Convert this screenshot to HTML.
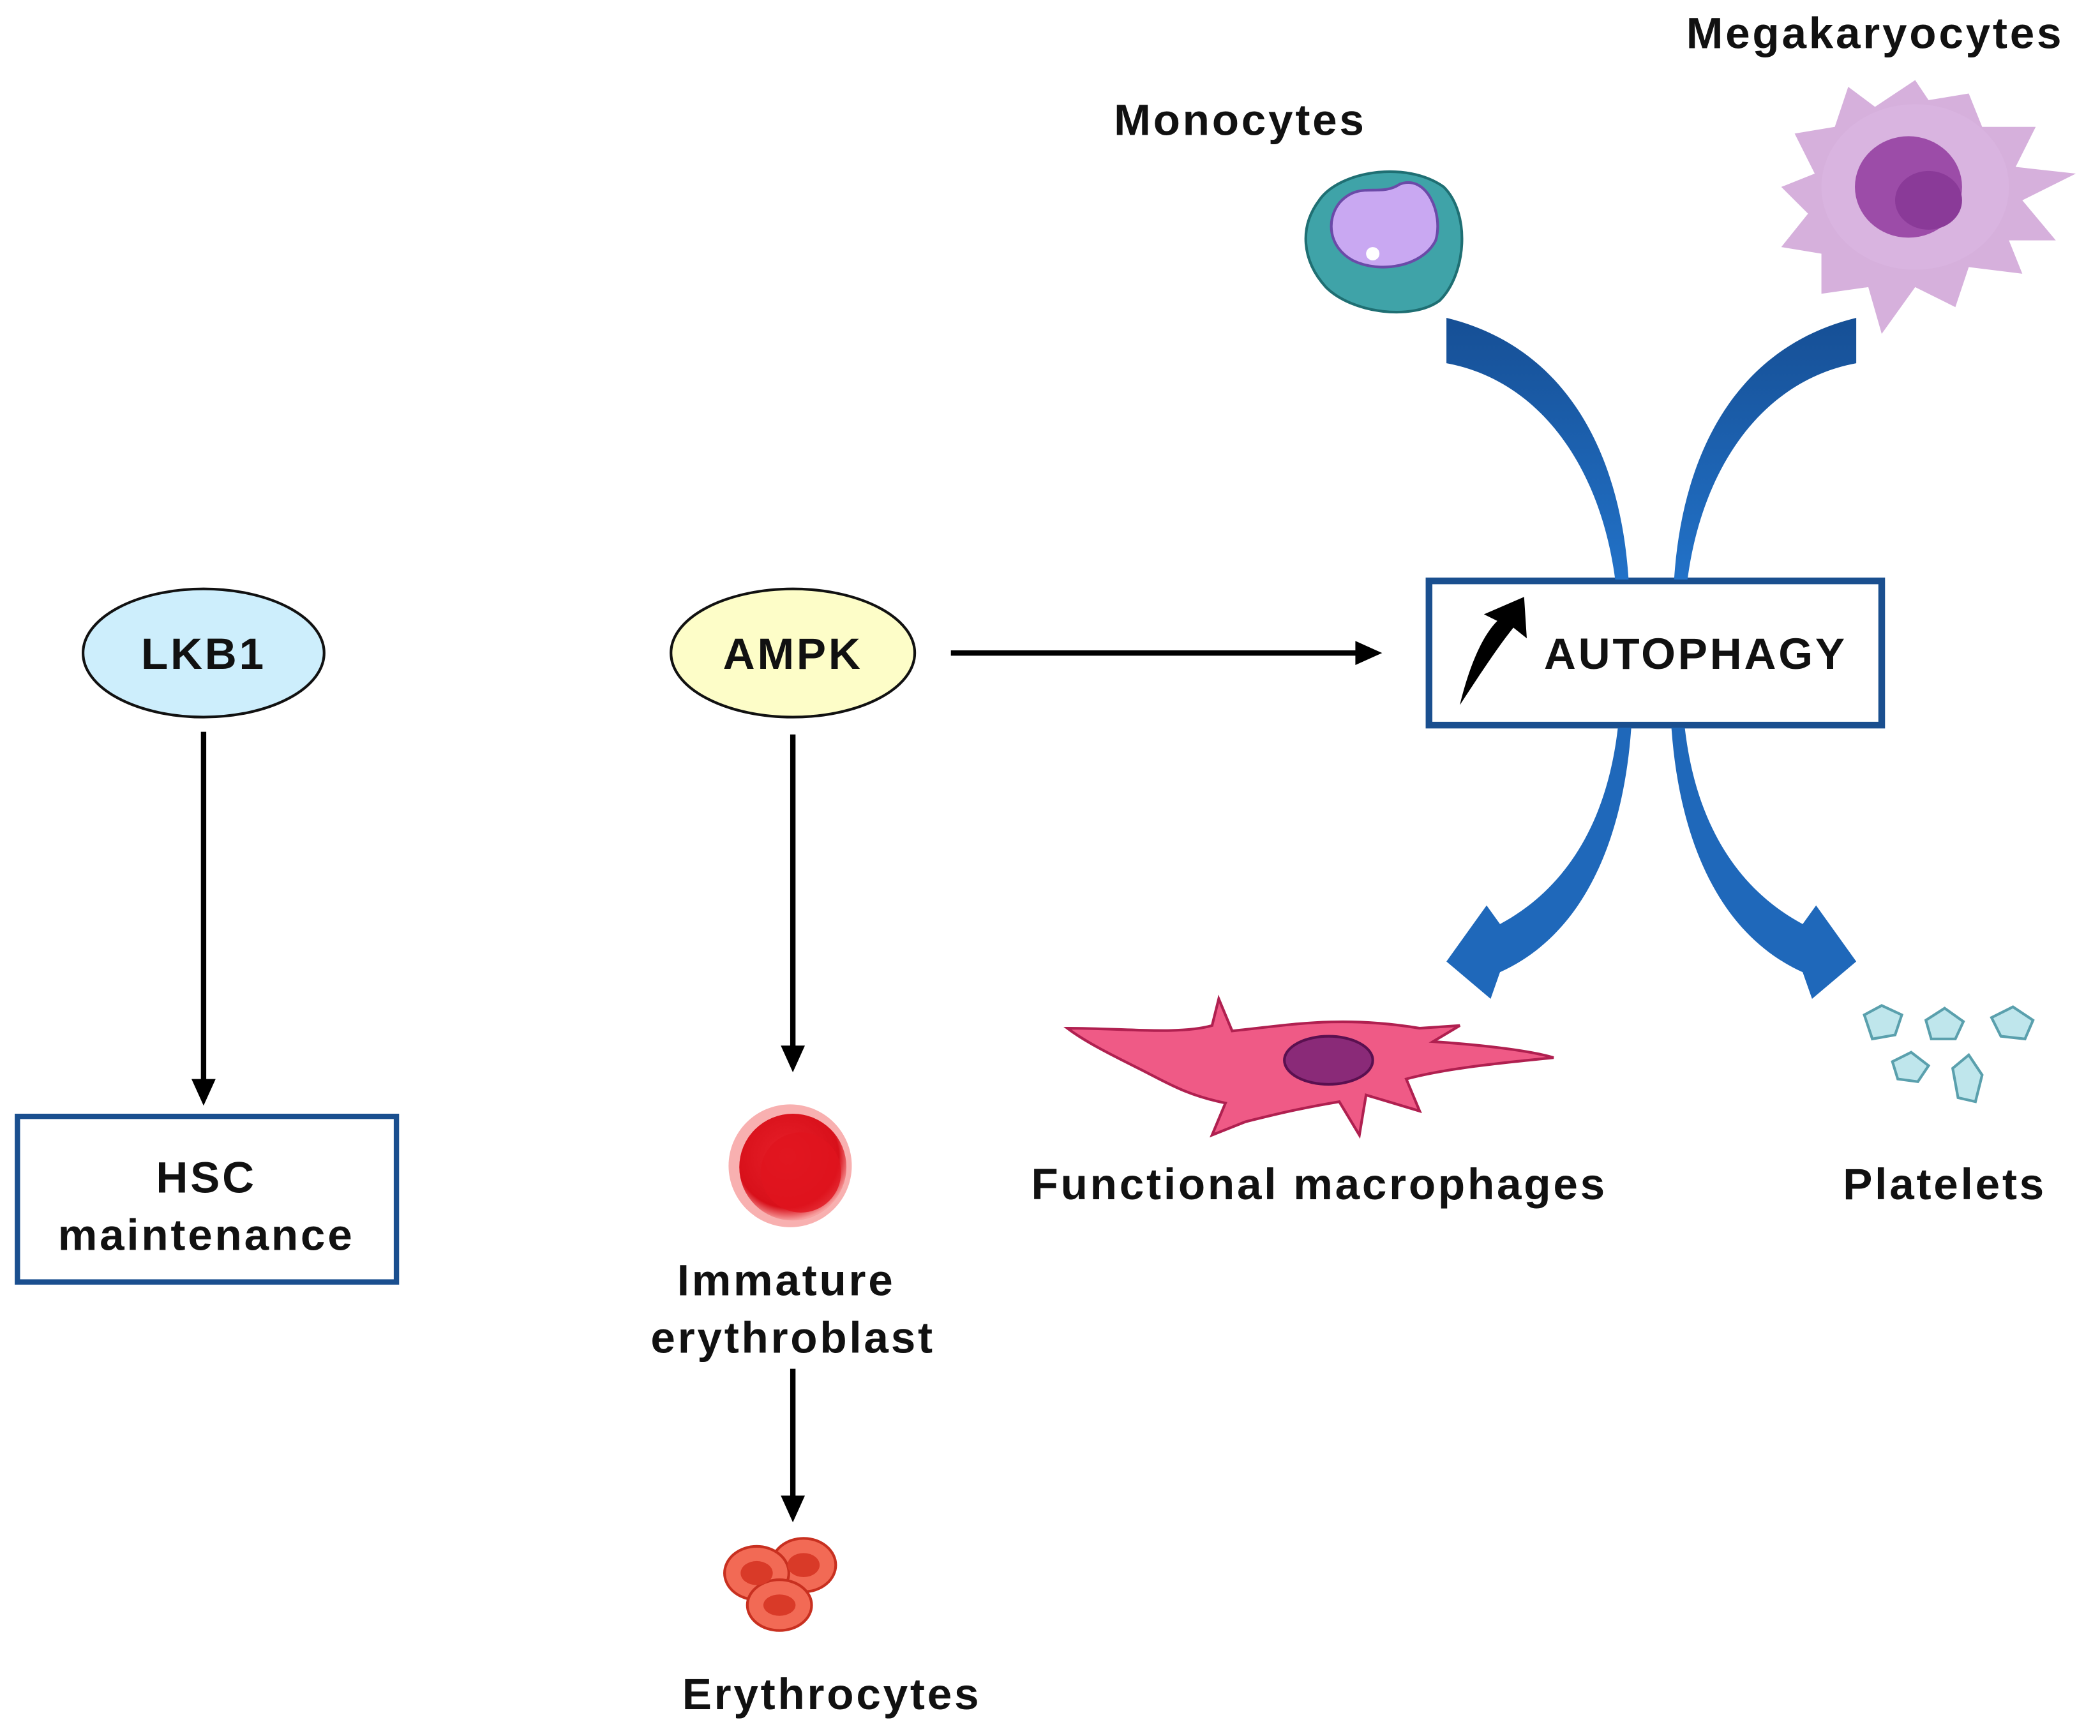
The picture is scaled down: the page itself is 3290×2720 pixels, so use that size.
<!DOCTYPE html>
<html><head><meta charset="utf-8"><style>
html,body{margin:0;padding:0;background:#fff;width:3290px;height:2720px;overflow:hidden}
svg{display:block}
text{font-family:"Liberation Sans",Arial,sans-serif;font-weight:bold;fill:#111;letter-spacing:1.8px}
</style></head><body>
<svg width="3290" height="2720" viewBox="0 0 1568 1300" preserveAspectRatio="none" xmlns="http://www.w3.org/2000/svg">
<defs>
<linearGradient id="bl" x1="0" y1="0" x2="0" y2="1"><stop offset="0" stop-color="#164f95"/><stop offset="1" stop-color="#2272c8"/></linearGradient>
<radialGradient id="rbc" cx="0.45" cy="0.4" r="0.6"><stop offset="0" stop-color="#e8202a"/><stop offset="0.8" stop-color="#d8101a"/><stop offset="1" stop-color="#f7a0a0"/></radialGradient>
</defs>
<rect width="1568" height="1300" fill="#fff"/>

<ellipse cx="152" cy="489" rx="90" ry="48" fill="#cdeefc" stroke="#111" stroke-width="2"/>
<text x="152" y="501" font-size="33" text-anchor="middle">LKB1</text>
<line x1="152" y1="548" x2="152" y2="812" stroke="#000" stroke-width="4"/>
<path d="M143,808 L161,808 L152,828 Z" fill="#000"/>
<rect x="13" y="836" width="283" height="124" fill="#fff" stroke="#1a4f8f" stroke-width="4"/>
<text x="154" y="893" font-size="33" text-anchor="middle">HSC</text>
<text x="154" y="936" font-size="33" text-anchor="middle">maintenance</text>

<ellipse cx="592" cy="489" rx="91" ry="48" fill="#fdfdc8" stroke="#111" stroke-width="2"/>
<text x="592" y="501" font-size="33" text-anchor="middle">AMPK</text>
<line x1="592" y1="550" x2="592" y2="787" stroke="#000" stroke-width="4"/>
<path d="M583,783 L601,783 L592,803 Z" fill="#000"/>
<line x1="710" y1="489" x2="1016" y2="489" stroke="#000" stroke-width="4"/>
<path d="M1012,480 L1032,489 L1012,498 Z" fill="#000"/>

<circle cx="590" cy="873" r="46" fill="#f8b0b0"/>
<circle cx="592" cy="874" r="40" fill="url(#rbc)"/>
<circle cx="598" cy="878" r="30" fill="#e0141e" opacity="0.8"/>
<text x="587" y="970" font-size="33" text-anchor="middle">Immature</text>
<text x="592" y="1013" font-size="33" text-anchor="middle">erythroblast</text>
<line x1="592" y1="1025" x2="592" y2="1124" stroke="#000" stroke-width="4"/>
<path d="M583,1120 L601,1120 L592,1140 Z" fill="#000"/>
<g stroke="#c83020" stroke-width="2">
<ellipse cx="600" cy="1172" rx="24" ry="20" fill="#f26a55"/>
<ellipse cx="565" cy="1178" rx="24" ry="20" fill="#f26a55"/>
<ellipse cx="582" cy="1202" rx="24" ry="19" fill="#f26a55"/>
</g>
<g fill="#d93a28"><ellipse cx="600" cy="1172" rx="12" ry="9"/><ellipse cx="565" cy="1178" rx="12" ry="9"/><ellipse cx="582" cy="1202" rx="12" ry="8"/></g>
<text x="621" y="1280" font-size="33" text-anchor="middle">Erythrocytes</text>

<rect x="1067" y="435" width="338" height="108" fill="#fff" stroke="#1a4f8f" stroke-width="5"/>
<path d="M1090,528 C1098,495 1108,475 1118,465 L1108,460 L1138,447 L1140,478 L1130,470 C1118,485 1105,505 1090,528 Z" fill="#000"/>
<text x="1266" y="501" font-size="33" text-anchor="middle">AUTOPHAGY</text>

<path d="M1080,238 C1170,260 1210,340 1216,434 L1206,434 C1195,350 1150,285 1080,272 Z" fill="url(#bl)"/>
<path d="M1386,238 C1296,260 1256,340 1250,434 L1260,434 C1271,350 1316,285 1386,272 Z" fill="url(#bl)"/>
<path d="M1208,545 C1200,615 1170,665 1120,692 L1110,678 L1080,720 L1113,748 L1120,728 C1182,700 1212,630 1218,545 Z" fill="#1f68ba"/>
<path d="M1258,545 C1266,615 1296,665 1346,692 L1356,678 L1386,720 L1353,748 L1346,728 C1284,700 1254,630 1248,545 Z" fill="#1f68ba"/>

<path d="M985,150 C1000,128 1050,120 1078,140 C1098,160 1095,205 1075,225 C1055,240 1010,235 990,215 C972,195 970,170 985,150 Z" fill="#3fa3a8" stroke="#1f6f73" stroke-width="2"/>
<path d="M1000,152 C1015,135 1030,148 1045,138 C1065,130 1078,160 1072,180 C1062,200 1030,205 1010,195 C992,185 990,165 1000,152 Z" fill="#c9a8f2" stroke="#6b4aa8" stroke-width="2"/>
<circle cx="1025" cy="190" r="5" fill="#fff"/>
<text x="926" y="101" font-size="33" text-anchor="middle">Monocytes</text>

<path d="M1340,100 L1370,95 L1380,65 L1400,80 L1430,60 L1440,75 L1470,70 L1480,95 L1520,95 L1505,125 L1550,130 L1510,150 L1535,180 L1500,180 L1510,205 L1470,200 L1460,230 L1430,215 L1405,250 L1395,215 L1360,220 L1360,190 L1330,185 L1350,160 L1330,140 L1355,130 Z" fill="#d6b0dc"/>
<ellipse cx="1430" cy="140" rx="70" ry="62" fill="#d9b4e0"/>
<ellipse cx="1425" cy="140" rx="40" ry="38" fill="#9c4ca8"/>
<ellipse cx="1440" cy="150" rx="25" ry="22" fill="#8a3a98"/>
<text x="1400" y="36" font-size="33" text-anchor="middle">Megakaryocytes</text>

<path d="M797,770 C840,770 880,775 905,768 L910,748 L920,772 C960,768 1000,760 1060,770 L1090,768 L1070,780 C1100,782 1140,786 1160,792 C1120,796 1080,800 1050,808 L1060,832 L1020,820 L1015,850 L1000,825 C970,830 950,835 930,840 L905,850 L915,826 C885,820 870,810 850,800 C830,790 810,780 797,770 Z" fill="#ef5a86" stroke="#b02050" stroke-width="2"/>
<ellipse cx="992" cy="794" rx="33" ry="18" fill="#8a2a78" stroke="#5a1050" stroke-width="2"/>
<text x="985" y="898" font-size="33" text-anchor="middle">Functional macrophages</text>

<g fill="#bfe6ec" stroke="#5aa0ad" stroke-width="2">
<path d="M1392,760 L1405,753 L1420,760 L1415,775 L1398,778 Z"/>
<path d="M1438,764 L1452,755 L1466,765 L1460,778 L1442,778 Z"/>
<path d="M1487,762 L1503,754 L1518,764 L1512,778 L1494,776 Z"/>
<path d="M1413,795 L1427,788 L1440,798 L1432,810 L1417,808 Z"/>
<path d="M1458,800 L1470,790 L1480,805 L1475,825 L1462,822 Z"/>
</g>
<text x="1452" y="898" font-size="33" text-anchor="middle">Platelets</text>
</svg>
</body></html>
